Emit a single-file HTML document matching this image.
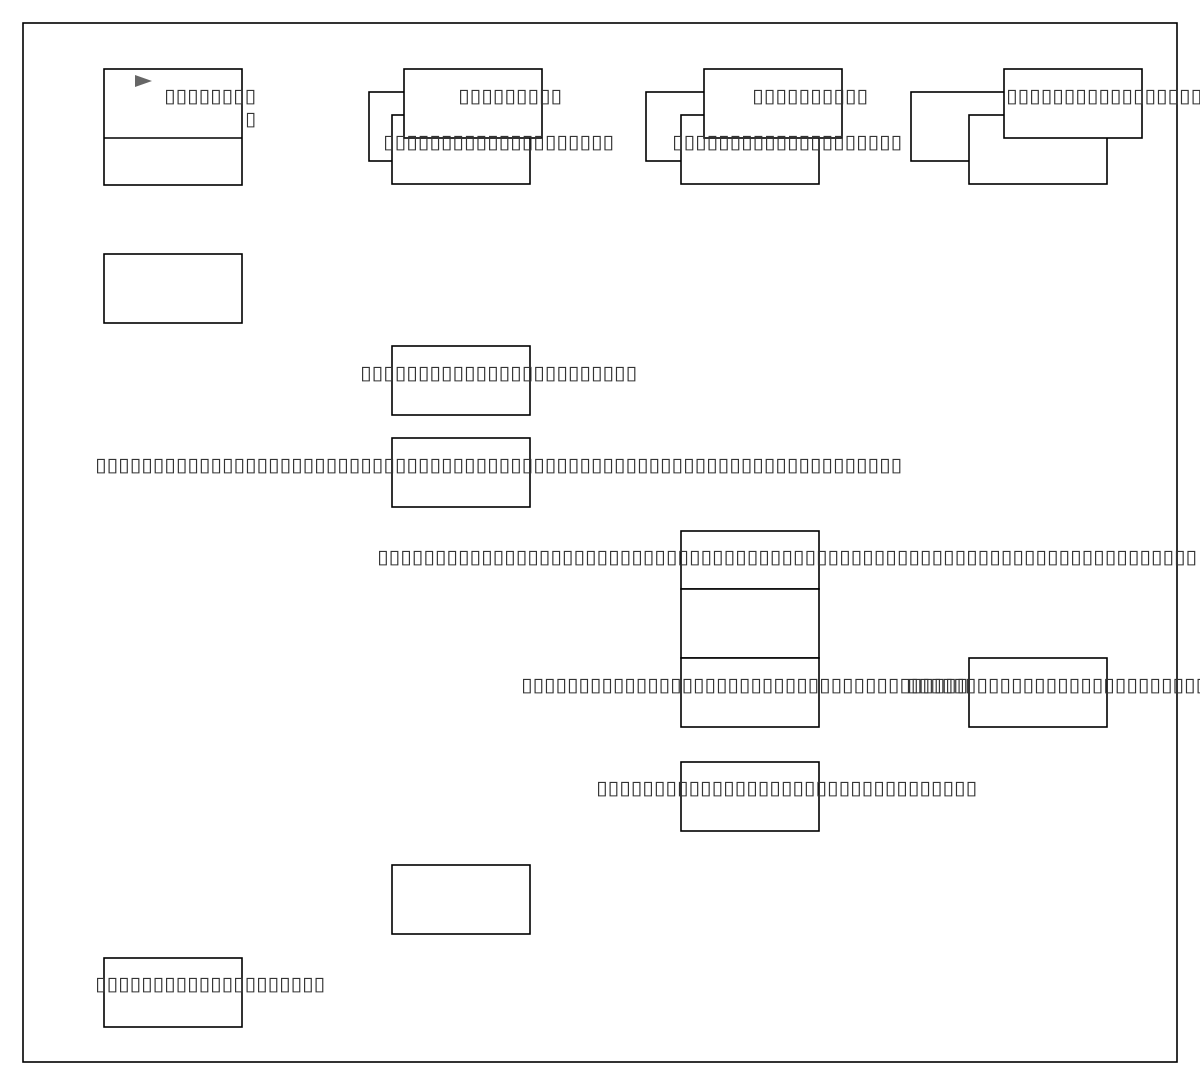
<!DOCTYPE html>
<html><head><meta charset="utf-8"><style>
html,body{margin:0;padding:0;background:#fff;width:1200px;height:1085px;overflow:hidden}
svg{display:block}
text{font-family:"DejaVu Sans","Liberation Sans",sans-serif;font-size:19px;fill:#333}
rect{fill:#fff;stroke:#000;stroke-width:1.6}
</style></head><body>
<svg width="1200" height="1085" viewBox="0 0 1200 1085">
<rect x="23" y="23" width="1154" height="1039" style="fill:none"/>
<rect x="104" y="69" width="138" height="116"/>
<line x1="104" y1="138" x2="242" y2="138" stroke="#000" stroke-width="1.6"/>
<polygon points="135,75 152,81 135,87" fill="#666"/>
<rect x="369" y="92" width="138" height="69"/>
<rect x="392" y="115" width="138" height="69"/>
<rect x="404" y="69" width="138" height="69"/>
<rect x="646" y="92" width="138" height="69"/>
<rect x="681" y="115" width="138" height="69"/>
<rect x="704" y="69" width="138" height="69"/>
<rect x="911" y="92" width="138" height="69"/>
<rect x="969" y="115" width="138" height="69"/>
<rect x="1004" y="69" width="138" height="69"/>
<rect x="104" y="254" width="138" height="69"/>
<rect x="392" y="346" width="138" height="69"/>
<rect x="392" y="438" width="138" height="69"/>
<rect x="681" y="531" width="138" height="58"/>
<rect x="681" y="589" width="138" height="69"/>
<rect x="681" y="658" width="138" height="69"/>
<rect x="969" y="658" width="138" height="69"/>
<rect x="681" y="762" width="138" height="69"/>
<rect x="392" y="865" width="138" height="69"/>
<rect x="104" y="958" width="138" height="69"/>
<text x="164" y="102" textLength="92" lengthAdjust="spacingAndGlyphs">▯▯▯▯▯▯▯▯</text>
<text x="245" y="125" textLength="11" lengthAdjust="spacingAndGlyphs">▯</text>
<text x="458" y="102" textLength="104" lengthAdjust="spacingAndGlyphs">▯▯▯▯▯▯▯▯▯</text>
<text x="752" y="102" textLength="116" lengthAdjust="spacingAndGlyphs">▯▯▯▯▯▯▯▯▯▯</text>
<text x="1006" y="102" textLength="196" lengthAdjust="spacingAndGlyphs">▯▯▯▯▯▯▯▯▯▯▯▯▯▯▯▯▯</text>
<text x="383" y="148" textLength="231" lengthAdjust="spacingAndGlyphs">▯▯▯▯▯▯▯▯▯▯▯▯▯▯▯▯▯▯▯▯</text>
<text x="672" y="148" textLength="230" lengthAdjust="spacingAndGlyphs">▯▯▯▯▯▯▯▯▯▯▯▯▯▯▯▯▯▯▯▯</text>
<text x="360" y="379" textLength="277" lengthAdjust="spacingAndGlyphs">▯▯▯▯▯▯▯▯▯▯▯▯▯▯▯▯▯▯▯▯▯▯▯▯</text>
<text x="95" y="471" textLength="807" lengthAdjust="spacingAndGlyphs">▯▯▯▯▯▯▯▯▯▯▯▯▯▯▯▯▯▯▯▯▯▯▯▯▯▯▯▯▯▯▯▯▯▯▯▯▯▯▯▯▯▯▯▯▯▯▯▯▯▯▯▯▯▯▯▯▯▯▯▯▯▯▯▯▯▯▯▯▯▯</text>
<text x="377" y="563" textLength="820" lengthAdjust="spacingAndGlyphs">▯▯▯▯▯▯▯▯▯▯▯▯▯▯▯▯▯▯▯▯▯▯▯▯▯▯▯▯▯▯▯▯▯▯▯▯▯▯▯▯▯▯▯▯▯▯▯▯▯▯▯▯▯▯▯▯▯▯▯▯▯▯▯▯▯▯▯▯▯▯▯</text>
<text x="521" y="691" textLength="447" lengthAdjust="spacingAndGlyphs">▯▯▯▯▯▯▯▯▯▯▯▯▯▯▯▯▯▯▯▯▯▯▯▯▯▯▯▯▯▯▯▯▯▯▯▯▯▯▯</text>
<text x="907" y="691" textLength="300" lengthAdjust="spacingAndGlyphs">▯▯▯▯▯▯▯▯▯▯▯▯▯▯▯▯▯▯▯▯▯▯▯▯▯▯</text>
<text x="596" y="794" textLength="381" lengthAdjust="spacingAndGlyphs">▯▯▯▯▯▯▯▯▯▯▯▯▯▯▯▯▯▯▯▯▯▯▯▯▯▯▯▯▯▯▯▯▯</text>
<text x="95" y="990" textLength="230" lengthAdjust="spacingAndGlyphs">▯▯▯▯▯▯▯▯▯▯▯▯▯▯▯▯▯▯▯▯</text>
</svg>
</body></html>
